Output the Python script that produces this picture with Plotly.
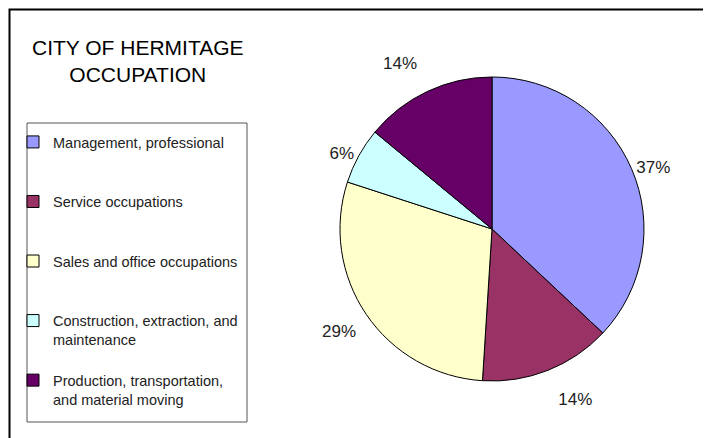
import plotly.graph_objects as go

# occupation shares, City of Hermitage
categories = [
    "Management, professional",
    "Service occupations",
    "Sales and office occupations",
    "Construction, extraction, and<br>maintenance",
    "Production, transportation,<br>and material moving",
]
shares = [37, 14, 29, 6, 14]
slice_colors = ["#9999FF", "#993366", "#FFFFCC", "#CCFFFF", "#660066"]

# pad legend entries with blank lines so the items spread out like the original
legend_names = [
    categories[0] + "<br> <br> ",
    categories[1] + "<br> <br> ",
    categories[2] + "<br> <br> ",
    categories[3] + "<br> ",
    categories[4],
]

# the original pie is a bit taller than wide, so the top / bottom labels sit
# further out; a blank line on the pie side pushes them away from the edge
label_templates = [
    "%{percent:.0%}",
    " <br>%{percent:.0%}",
    " <br>%{percent:.0%}",
    "%{percent:.0%}",
    "%{percent:.0%}<br> ",
]

W, H = 711, 438
FONT = "Liberation Sans, Arial, sans-serif"

fig = go.Figure()
fig.add_trace(go.Pie(
    labels=legend_names,
    values=shares,
    sort=False,
    direction="clockwise",
    rotation=0,
    marker=dict(colors=slice_colors, line=dict(color="black", width=1)),
    texttemplate=label_templates,
    textposition="outside",
    textfont=dict(family=FONT, size=17, color="#222"),
    domain=dict(x=[332 / W, 636 / W], y=[65 / H, 369 / H]),
    hoverinfo="label+percent",
))

fig.update_layout(
    width=W, height=H,
    margin=dict(l=0, r=0, t=0, b=0),
    paper_bgcolor="white",
    plot_bgcolor="white",
    showlegend=True,
    legend=dict(
        x=5 / W, y=1 - 118 / H, xanchor="left", yanchor="top",
        bgcolor="rgba(0,0,0,0)",
        borderwidth=0,
        font=dict(family=FONT, size=14.5, color="#222"),
        valign="top",
        itemclick=False,
    ),
    annotations=[
        dict(text="CITY OF HERMITAGE<br>OCCUPATION", x=130 / W, y=1 - 53 / H,
             xref="paper", yref="paper", xanchor="center", yanchor="middle",
             showarrow=False, align="center",
             font=dict(family=FONT, size=21, color="black")),
    ],
    shapes=[
        # outer frame (right and bottom edges fall outside the picture)
        dict(type="rect", xref="paper", yref="paper",
             x0=1.5 / W, x1=1.05, y0=-0.05, y1=1 - 1.5 / H,
             line=dict(color="black", width=2)),
        # legend box
        dict(type="rect", xref="paper", yref="paper",
             x0=19 / W, x1=239 / W, y0=1 - 414 / H, y1=1 - 115 / H,
             line=dict(color="#555", width=1)),
    ],
)

fig.write_html("out.html")
